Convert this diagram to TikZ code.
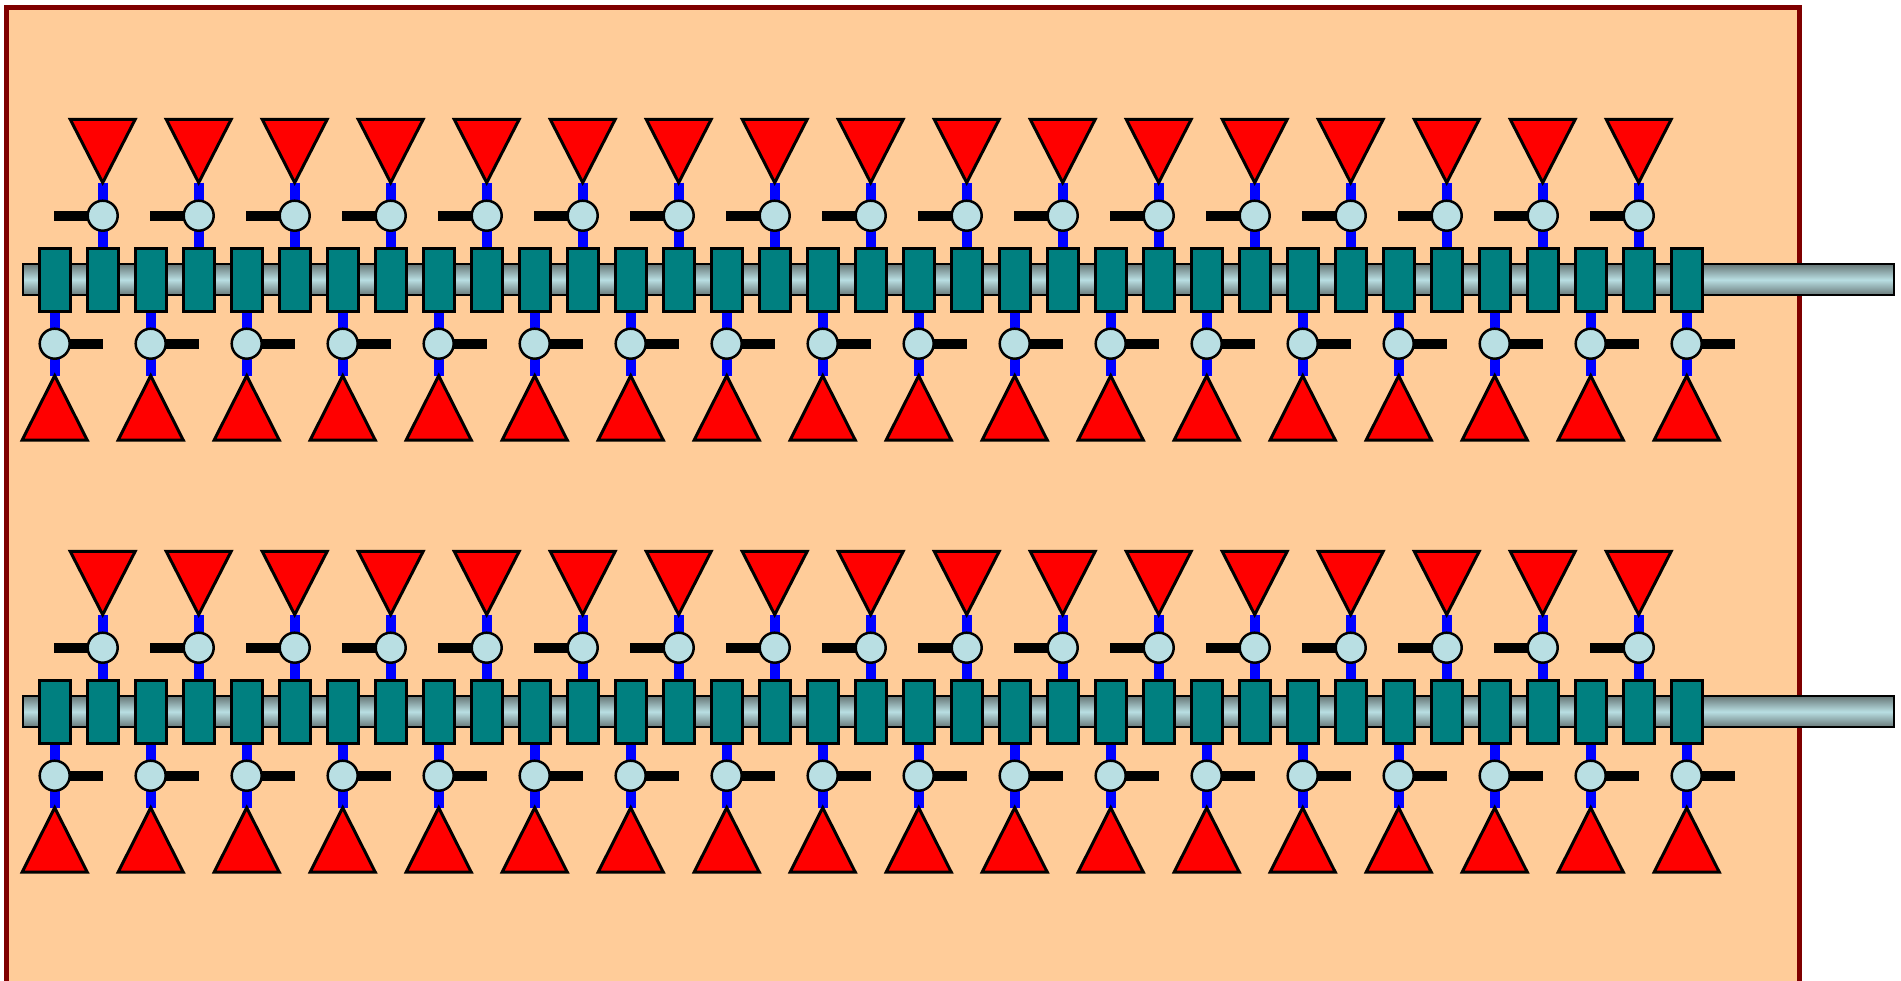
\documentclass[tikz,border=0pt]{standalone}
\usetikzlibrary{calc}
\definecolor{framefill}{HTML}{FFCC99}
\definecolor{frameline}{HTML}{7F0000}
\definecolor{knobfill}{HTML}{B9DFE3}
\definecolor{shaftdark}{HTML}{687878}
\definecolor{tealc}{HTML}{008080}
\pgfdeclarelayer{bg}
\pgfdeclarelayer{wires}
\pgfsetlayers{bg,wires,main}
\tikzset{
  rod/.style={draw=black, line width=2.5, top color=shaftdark, bottom color=shaftdark, middle color=knobfill, inner sep=0, outer sep=0},
  block/.style={draw=black, line width=3, fill=tealc, minimum width=31, minimum height=63, inner sep=0, outer sep=0},
  knob/.style={circle, draw=black, line width=2.5, fill=knobfill, minimum size=30, inner sep=0},
  cone/.style={draw=black, line width=3, fill=red, line join=miter},
  wire/.style={draw=blue, line width=10},
  bar/.style={draw=black, line width=10},
}
\begin{document}
\begin{tikzpicture}[x=1pt,y=-1pt]
\useasboundingbox (0,0) rectangle (1901,980);
\clip (0,0) rectangle (1901,980);
\begin{pgfonlayer}{bg}
\draw[line width=5, draw=frameline, fill=framefill] (6.5,7.5) rectangle (1799.5,1000);
\end{pgfonlayer}
\foreach \r/\yo in {1/279.7, 2/711.7} {
  \begin{pgfonlayer}{bg}
  \node[rod, minimum width=1871, minimum height=31] (shaft\r) at (958.5,\yo) {};
  \end{pgfonlayer}
  \foreach \j in {0,...,34} {
    \node[block] (b\r-\j) at ({54.7+48*\j},\yo) {};
  }
  % upper columns
  \foreach \k [evaluate=\k as \j using int(2*\k+1)] in {0,...,16} {
    \node[knob] (uk\r-\k) at ({102.7+96*\k},{\yo-64}) {};
    \coordinate (ut\r-\k) at ({102.7+96*\k},{\yo-97});
    \coordinate (ue\r-\k) at ({102.7+96*\k-48.7},{\yo-64});
    \draw[cone] ({102.7+96*\k-32.5},{\yo-160.4}) -- ({102.7+96*\k+32.5},{\yo-160.4}) -- (ut\r-\k) -- cycle;
    \begin{pgfonlayer}{wires}
    \draw[wire] (ut\r-\k) -- (b\r-\j.center);
    \draw[bar] (uk\r-\k.center) -- (ue\r-\k);
    \end{pgfonlayer}
  }
  % lower columns
  \foreach \k [evaluate=\k as \j using int(2*\k)] in {0,...,17} {
    \node[knob] (lk\r-\k) at ({54.7+96*\k},{\yo+64}) {};
    \coordinate (lt\r-\k) at ({54.7+96*\k},{\yo+96});
    \coordinate (le\r-\k) at ({54.7+96*\k+48},{\yo+64});
    \draw[cone] ({54.7+96*\k-32.5},{\yo+160.3}) -- ({54.7+96*\k+32.5},{\yo+160.3}) -- (lt\r-\k) -- cycle;
    \begin{pgfonlayer}{wires}
    \draw[wire] (lt\r-\k) -- (b\r-\j.center);
    \draw[bar] (lk\r-\k.center) -- (le\r-\k);
    \end{pgfonlayer}
  }
}
\end{tikzpicture}
\end{document}
